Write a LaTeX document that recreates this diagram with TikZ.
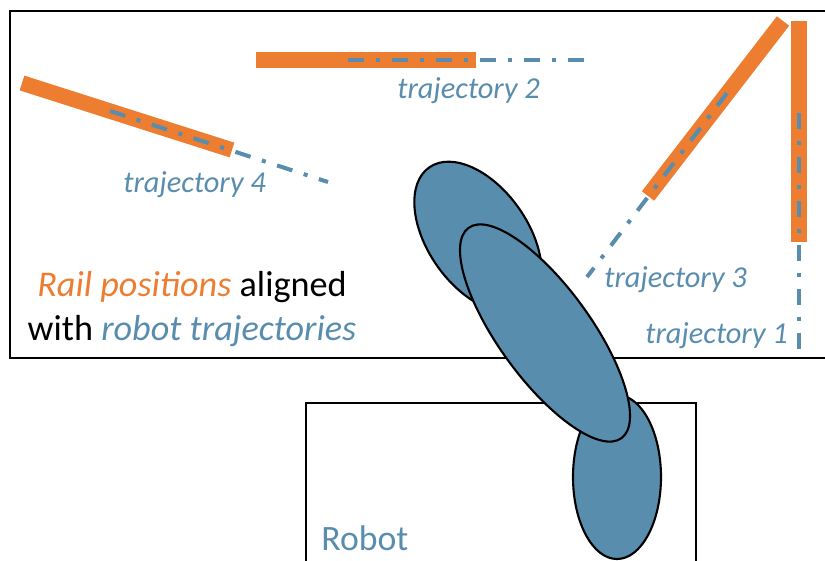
\documentclass[tikz,border=0pt]{standalone}
\usepackage{fontspec}
\setmainfont{Carlito}
\usepackage{xcolor}
\usepackage{tikz}
\definecolor{railorange}{RGB}{237,125,49}
\definecolor{robotblue}{RGB}{89,141,173}

\begin{document}
\begin{tikzpicture}[x=0.2mm, y=-0.2mm,
  rail/.style={railorange, line width=8.8pt},
  traj/.style={robotblue, line width=2.3pt,
    dash pattern=on 9.1pt off 6.8pt on 2.3pt off 6.8pt},
  trajlabel/.style={robotblue, inner sep=0pt, anchor=base west,
    font=\fontsize{17.3}{20}\selectfont\itshape},
  frame/.style={draw=black, line width=1.4pt},
  link/.style={draw=black, line width=1.2pt, fill=robotblue}]
  \useasboundingbox (0,0) rectangle (825,560);
  \clip (0,0) rectangle (825,560);
  % ---- workspace and robot base ----
  \draw[frame] (10,11) rectangle (850,358);
  \draw[frame] (306,403) rectangle (696,600);
  \node[robotblue, inner sep=0pt, anchor=base west,
    font=\fontsize{20.3}{24}\selectfont] (robot) at (321,550) {Robot};
  % ---- rails ----
  \coordinate (r1a) at (799,21);  \coordinate (r1b) at (799,242);
  \coordinate (r2a) at (256,60);  \coordinate (r2b) at (476,60);
  \coordinate (r3a) at (783,21);  \coordinate (r3b) at (648,196);
  \coordinate (r4a) at (22,83);   \coordinate (r4b) at (232,150);
  \draw[rail] (r1a) -- (r1b);
  \draw[rail] (r2a) -- (r2b);
  \draw[rail] (r3a) -- (r3b);
  \draw[rail] (r4a) -- (r4b);
  % ---- trajectories ----
  \coordinate (t1a) at (799,113); \coordinate (t1b) at (799,352);
  \coordinate (t2a) at (348,60);  \coordinate (t2b) at (587,60);
  \coordinate (t3a) at (727,93);  \coordinate (t3b) at (587,277);
  \coordinate (t4a) at (110,111); \coordinate (t4b) at (328,182);
  \draw[traj] (t1a) -- (t1b);
  \draw[traj] (t2a) -- (t2b);
  \draw[traj] (t3a) -- (t3b);
  \draw[traj] (t4a) -- (t4b);
  \node[trajlabel] (lab1) at (645,343) {trajectory 1};
  \node[trajlabel] (lab2) at (397,98) {trajectory 2};
  \node[trajlabel] (lab3) at (604,287) {trajectory 3};
  \node[trajlabel] (lab4) at (123,192) {trajectory 4};
  % ---- caption ----
  \node[align=center, inner sep=0pt, anchor=base,
    font=\fontsize{20.6}{24.5}\selectfont] (caption) at (192,340)
    {\textcolor{railorange}{\itshape Rail positions} aligned\\
     with \textcolor{robotblue}{\itshape robot trajectories}};
  % ---- arm links ----
  \draw[link, rotate around={-55:(478,237)}] (478,237) ellipse [x radius=85, y radius=50];
  \draw[link] (617,477) ellipse [x radius=44, y radius=82];
  \draw[link, rotate around={-54:(545,333)}] (545,333) ellipse [x radius=130, y radius=46];
\end{tikzpicture}
\end{document}
